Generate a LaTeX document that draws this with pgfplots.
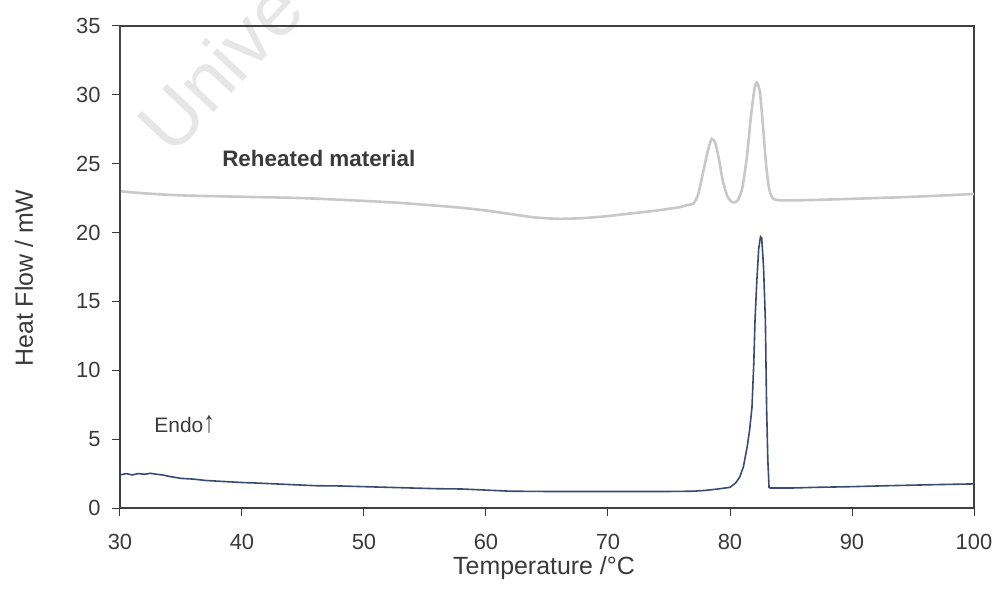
\documentclass[border=0pt]{standalone}
\usepackage{pgfplots}
\pgfplotsset{compat=1.18}
\usepackage{fontspec}
\setmainfont{Liberation Sans}
\definecolor{endo}{HTML}{3B4A70}
\definecolor{reheat}{HTML}{C8C8C8}
\definecolor{txt}{HTML}{3A3A3A}
\definecolor{wmark}{HTML}{E6E6E6}

\begin{document}
\begin{tikzpicture}
% faint watermark behind the plot
\node[rotate=47, anchor=base west, text=wmark, inner sep=0pt,
      font=\fontsize{78}{80}\selectfont] at (52bp,350bp) {Unive};
\begin{axis}[
  at={(0,0)}, anchor=south west,
  scale only axis, width=854bp, height=482bp,
  xmin=30, xmax=100, ymin=0, ymax=35,
  xtick={30,40,...,100}, ytick={0,5,...,35},
  xtick pos=bottom, ytick pos=left,
  tick align=outside, major tick length=8bp,
  tick style={line width=1bp, color=txt},
  axis line style={line width=1.6bp, color=black!75},
  /pgf/number format/assume math mode=true,
  ticklabel style={font=\fontsize{22}{24}\selectfont, color=txt},
  xticklabel style={yshift=-15bp},
  yticklabel style={xshift=-8bp},
  xlabel={Temperature /°C}, ylabel={Heat Flow / mW},
  label style={font=\fontsize{25}{28}\selectfont, color=txt},
  xlabel style={at={(axis description cs:0.4965,-0.1245)}, anchor=center},
  ylabel style={at={(axis description cs:-0.1124,0.477)}, anchor=center},
]
% reheated material trace
\addplot[reheat, line width=2.6bp, smooth, tension=0.4] coordinates {
 (30,23.0) (32,22.85) (35,22.7) (40,22.6) (45,22.5) (50,22.3) (53,22.15)
 (56,21.95) (58,21.8) (60,21.6) (62,21.35) (64,21.1) (66,21.0) (68,21.05)
 (70,21.2) (72,21.4) (74,21.6) (75.9,21.85) (76.5,22.0) (77.0,22.1)
 (77.4,22.8) (77.8,24.4) (78.2,26.0) (78.5,26.8) (78.8,26.5) (79.1,25.3)
 (79.4,23.8) (79.8,22.6) (80.2,22.2) (80.6,22.3) (81.0,23.2) (81.4,25.6)
 (81.7,28.3) (82.0,30.4) (82.2,30.9) (82.45,30.2) (82.7,27.8) (82.95,25.0)
 (83.2,23.2) (83.5,22.5) (84,22.35) (86,22.35) (90,22.45) (95,22.6) (100,22.8)
};
% start-up transient of the reheat run
\addplot[black!70, line width=2.2bp] coordinates {(30,22.4) (30,35)};
% first heating trace
\addplot[endo, line width=1.6bp] coordinates {
 (30,2.4) (30.5,2.5) (31,2.4) (31.5,2.5) (32,2.45) (32.5,2.52) (33,2.45)
 (33.5,2.4) (34,2.3) (35,2.15) (36,2.1) (37,2.0) (38,1.95) (39,1.9) (40,1.85)
 (41,1.82) (42,1.78) (44,1.7) (46,1.62) (48,1.6) (50,1.55) (52,1.5) (54,1.45)
 (56,1.4) (58,1.38) (60,1.3) (62,1.22) (65,1.2) (70,1.2) (75,1.2) (77,1.22)
 (78,1.28) (79,1.38) (80,1.5) (80.5,1.85) (80.8,2.25) (81.1,3.0) (81.4,4.4)
 (81.6,5.6) (81.8,7.3) (81.95,10.5) (82.05,13.6) (82.2,16.5) (82.35,18.8)
 (82.5,19.7) (82.6,19.6) (82.75,17.5) (82.9,13.6) (83.0,7.3) (83.1,3.5)
 (83.2,1.5) (83.3,1.45) (85,1.45) (87,1.5) (90,1.55) (93,1.62) (95,1.66)
 (97,1.7) (100,1.75)
};
\node[font=\bfseries\fontsize{22.5}{25}\selectfont, text=txt] at (axis cs:46.3,25.4) {Reheated material};
\node[font=\fontsize{21}{24}\selectfont, text=txt] at (axis cs:35.3,6.1) {Endo\scalebox{1.1}[1.45]{↑}};
\end{axis}
\pgfresetboundingbox
\path[use as bounding box] (-120bp,-84bp) rectangle (876bp,508bp);
\end{tikzpicture}
\end{document}
